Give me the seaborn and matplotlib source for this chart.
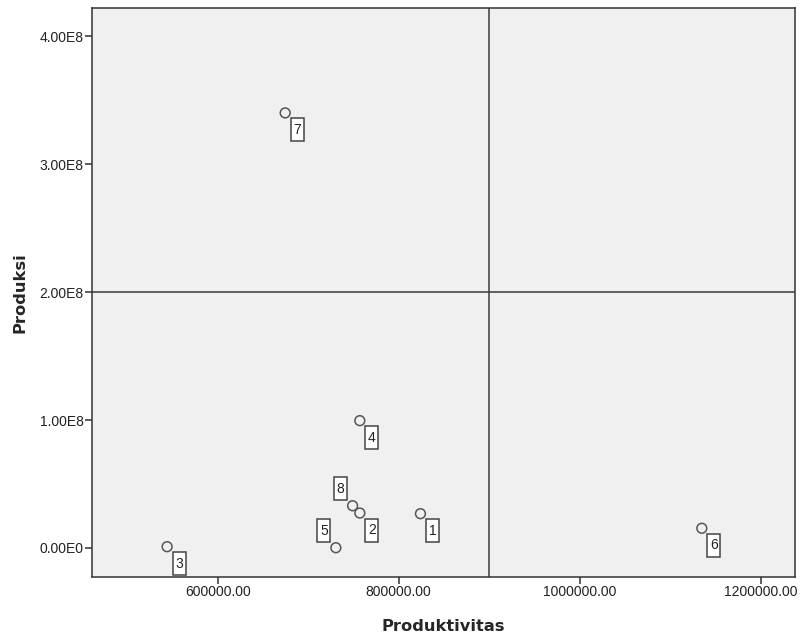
import matplotlib
matplotlib.use("Agg")
import matplotlib.pyplot as plt
import matplotlib.transforms as mtransforms
from matplotlib.patches import Rectangle
import seaborn as sns
import pandas as pd

# data
cases = ["1", "2", "3", "4", "5", "6", "7", "8"]
produktivitas = [824000, 757000, 544000, 757000, 730500, 1135000, 674500, 749000]
produksi = [0.268e8, 0.273e8, 0.01e8, 0.995e8, 0.002e8, 0.154e8, 3.40e8, 0.33e8]

x_ticks = [600000, 800000, 1000000, 1200000]
x_tick_labels = ["600000.00", "800000.00", "1000000.00", "1200000.00"]
y_ticks = [0, 1e8, 2e8, 3e8, 4e8]
y_tick_labels = ["0.00E0", "1.00E8", "2.00E8", "3.00E8", "4.00E8"]

x_ref = 900000
y_ref = 2e8

df = pd.DataFrame({"Case": cases, "Produktivitas": produktivitas, "Produksi": produksi})

sns.set_style("white")
plt.rcParams["font.family"] = ["Liberation Sans", "DejaVu Sans"]

fig = plt.figure(figsize=(8.01, 6.39), dpi=100)
ax = fig.add_axes([0.1149, 0.097, 0.8776, 0.8905])
ax.set_facecolor("#F0F0F0")

ax.axvline(x_ref, color="#3a3a3a", lw=1.1, zorder=1)
ax.axhline(y_ref, color="#3a3a3a", lw=1.1, zorder=1)

sns.scatterplot(data=df, x="Produktivitas", y="Produksi", ax=ax, marker="o",
                s=50, facecolors="none", edgecolor="#555555", linewidth=1.1,
                zorder=3)

ax.set_xlim(461000, 1238000)
ax.set_ylim(-0.227e8, 4.22e8)

# label boxes (tall narrow, in pixels), most to lower right, two to upper left
upper_left = {"5", "8"}
box_w, box_h = 13, 23
for c, xv, yv in zip(cases, produktivitas, produksi):
    if c in upper_left:
        off = (-12, 17)
    else:
        off = (12, -17)
    trans = mtransforms.IdentityTransform() + mtransforms.ScaledTranslation(xv, yv, ax.transData)
    rect = Rectangle((off[0] - box_w / 2, off[1] - box_h / 2), box_w, box_h,
                     transform=trans, fc="white", ec="#444444", lw=1.1,
                     zorder=4, clip_on=False)
    ax.add_patch(rect)
    ax.annotate(c, (xv, yv), xytext=off, textcoords="offset pixels",
                ha="center", va="center", fontsize=10, color="#222222",
                zorder=5)

ax.set_xticks(x_ticks)
ax.set_xticklabels(x_tick_labels)
ax.set_yticks(y_ticks)
ax.set_yticklabels(y_tick_labels)
ax.tick_params(axis="both", direction="out", length=5, width=1.1,
               color="#333333", labelsize=10, labelcolor="#222222", pad=1,
               bottom=True, left=True)

for sp in ax.spines.values():
    sp.set_color("#333333")
    sp.set_linewidth(1.1)

ax.set_xlabel("Produktivitas", fontsize=11.7, fontweight="bold",
              family="DejaVu Sans", labelpad=14)
ax.set_ylabel("Produksi", fontsize=11.7, fontweight="bold",
              family="DejaVu Sans", labelpad=9)

fig.savefig("out.png", dpi=100)
